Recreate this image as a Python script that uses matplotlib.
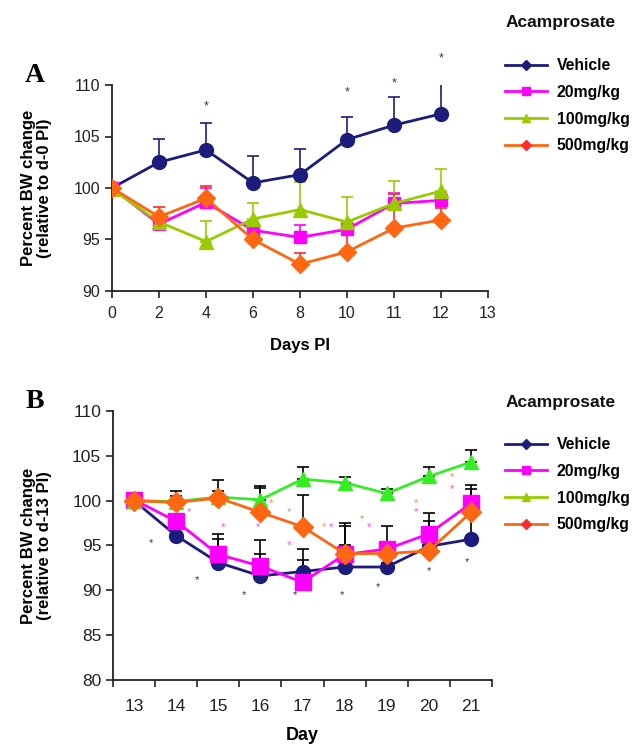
import matplotlib
matplotlib.use("Agg")
import matplotlib.pyplot as plt
from matplotlib.lines import Line2D

plt.rcParams['font.family'] = ['Liberation Sans', 'DejaVu Sans']

# ---- panel A data (days post infection) ----
days_a = ['0', '2', '4', '6', '8', '10', '11', '12', '13']
veh_a = [100, 102.5, 103.7, 100.5, 101.3, 104.7, 106.1, 107.2]
veh_a_err = [0, 2.3, 2.6, 2.6, 2.5, 2.2, 2.7, 2.9]
mg20_a = [100, 96.5, 98.6, 95.9, 95.2, 96.0, 98.5, 98.8]
mg20_a_err = [0, 0.4, 1.4, 0.6, 1.2, 0.8, 1.0, 0.8]
mg100_a = [99.9, 96.7, 94.8, 97.0, 97.9, 96.7, 98.5, 99.7]
mg100_a_err = [0, 0.4, 2.0, 1.5, 2.7, 2.4, 2.2, 2.1]
mg500_a = [100, 97.2, 99.0, 95.0, 92.6, 93.8, 96.1, 96.9]
mg500_a_err = [0, 1.0, 1.2, 0.8, 1.1, 2.2, 3.3, 1.2]
star_a_x = [2, 5, 6, 7]
star_a_y = [107.9, 109.3, 110.2, 112.6]

# ---- panel B data ----
days_b = ['13', '14', '15', '16', '17', '18', '19', '20', '21']
veh_b = [100, 96.1, 93.1, 91.6, 92.1, 92.6, 92.6, 94.9, 95.7]
veh_b_err = [0, 0.8, 2.6, 2.5, 2.5, 2.4, 0.5, 2.8, 2.6]
mg20_b = [100.1, 97.7, 94.0, 92.7, 90.9, 94.0, 94.6, 96.3, 99.7]
mg20_b_err = [0, 0.6, 2.3, 2.9, 2.5, 3.2, 2.6, 2.3, 2.1]
mg100_b = [100, 99.9, 100.4, 100.1, 102.4, 102.0, 100.8, 102.7, 104.3]
mg100_b_err = [0, 0.6, 0.7, 1.5, 1.3, 0.6, 0.5, 1.0, 1.3]
mg500_b = [100, 99.8, 100.3, 98.7, 97.1, 94.1, 94.1, 94.4, 98.7]
mg500_b_err = [0, 1.3, 2.0, 2.7, 3.5, 3.4, 1.2, 0.6, 2.6]
star_veh_b_x = [0.40, 1.49, 2.61, 3.82, 4.94, 5.79, 7.00, 7.90]
star_veh_b_y = [95.3, 91.1, 89.5, 89.5, 89.5, 90.4, 92.1, 93.1]
star_20_b_x = [1.30, 2.11, 2.95, 3.69, 4.67, 5.59, 6.70, 7.56]
star_20_b_y = [98.7, 97.0, 97.0, 95.1, 97.0, 97.0, 98.7, 101.3]
star_500_b_x = [3.25, 3.68, 4.52, 5.41, 6.70, 7.56]
star_500_b_y = [99.7, 98.7, 97.0, 97.9, 99.7, 102.6]

labels = ['Vehicle', '20mg/kg', '100mg/kg', '500mg/kg']
NAVY = '#1c1c7c'
MAGENTA = '#ff00ff'
GREEN_A = '#99cc00'
GREEN_B = '#33ee22'
ORANGE = '#ff6611'
RED = '#ff2a2a'

W, H = 633, 744
fig = plt.figure(figsize=(W / 100, H / 100), dpi=100)


def px_axes(left, top, right, bottom):
    return fig.add_axes([left / W, 1 - bottom / H, (right - left) / W, (bottom - top) / H])


def style_axes(ax, fs):
    for s in ['top', 'right']:
        ax.spines[s].set_visible(False)
    for s in ['left', 'bottom']:
        ax.spines[s].set_linewidth(1.3)
        ax.spines[s].set_color('#222222')
    ax.tick_params(axis='both', which='both', direction='out', length=5, width=1.2,
                   colors='#222222', labelsize=fs)


def series(ax, x, y, err, color, ecolor, marker, ms):
    ax.errorbar(x, y, yerr=[[0] * len(err), err], fmt='none', ecolor=ecolor,
                elinewidth=1.2, capsize=4, capthick=1.2, zorder=2)
    ax.plot(x, y, color=color, lw=2, marker=marker, ms=ms, mfc=color, mec=color, zorder=3)


def legend(colors, title_y, top):
    markers = ['D', 's', '^', 'D']
    mcols = [NAVY, MAGENTA, colors[2], RED]
    handles = [Line2D([], [], color=c, lw=2, marker=m, ms=6 if m != 'D' else 5, mfc=mc, mec=mc)
               for c, m, mc in zip(colors, markers, mcols)]
    fig.text(506 / W, 1 - title_y / H, 'Acamprosate', fontsize=12.5, fontweight='bold',
             va='center', ha='left', color='#111111')
    fig.legend(handles, labels, loc='upper left', bbox_to_anchor=(505 / W, 1 - top / H),
               frameon=False, prop={'weight': 'bold', 'size': 11.3}, handlelength=2.7,
               handletextpad=0.6, labelspacing=0.75, borderpad=0, borderaxespad=0)


# ---------------- panel A ----------------
axA = px_axes(112, 85, 488, 291)
xa = list(range(len(veh_a)))
series(axA, xa, veh_a, veh_a_err, NAVY, NAVY, 'o', 10)
series(axA, xa, mg20_a, mg20_a_err, MAGENTA, MAGENTA, 's', 8)
series(axA, xa, mg100_a, mg100_a_err, GREEN_A, GREEN_A, '^', 10)
series(axA, xa, mg500_a, mg500_a_err, ORANGE, RED, 'D', 9)
for x, y in zip(star_a_x, star_a_y):
    axA.text(x, y, '*', color='#333355', fontsize=9, ha='center', va='center', clip_on=False)
axA.set_xlim(0, len(days_a) - 1)
axA.set_ylim(90, 110)
axA.set_xticks(range(len(days_a)))
axA.set_xticklabels(days_a)
axA.set_yticks([90, 95, 100, 105, 110])
style_axes(axA, 11.5)
axA.tick_params(axis='x', pad=6)
axA.set_xlabel('Days PI', fontsize=12, fontweight='bold', labelpad=12)
axA.set_ylabel('Percent BW change\n(relative to d-0 PI)', fontsize=12, fontweight='bold',
               linespacing=1.05)
axA.yaxis.set_label_coords(-0.16, 0.5)
fig.text(35 / W, 1 - 75 / H, 'A', family='Liberation Serif', fontweight='bold', fontsize=20,
         ha='center', va='center')
legend([NAVY, MAGENTA, GREEN_A, ORANGE], 22, 58)

# ---------------- panel B ----------------
axB = px_axes(113, 411, 492, 680)
xb = list(range(len(veh_b)))
series(axB, xb, veh_b, veh_b_err, NAVY, 'black', 'o', 10)
series(axB, xb, mg20_b, mg20_b_err, MAGENTA, 'black', 's', 11)
series(axB, xb, mg100_b, mg100_b_err, GREEN_B, 'black', '^', 10)
series(axB, xb, mg500_b, mg500_b_err, ORANGE, 'black', 'D', 10)
for xs, ys, c in [(star_veh_b_x, star_veh_b_y, '#333355'),
                  (star_20_b_x, star_20_b_y, '#ff44ff'),
                  (star_500_b_x, star_500_b_y, '#ff8833')]:
    for x, y in zip(xs, ys):
        axB.text(x, y, '*', color=c, fontsize=8, ha='center', va='center')
axB.set_xlim(-0.5, len(days_b) - 0.5)
axB.set_ylim(80, 110)
axB.set_xticks([i - 0.5 for i in range(len(days_b) + 1)])
axB.set_xticklabels([])
axB.set_xticks(range(len(days_b)), minor=True)
axB.set_xticklabels(days_b, minor=True)
axB.set_yticks([80, 85, 90, 95, 100, 105, 110])
style_axes(axB, 12.5)
axB.tick_params(axis='x', which='minor', length=0, pad=14)
axB.set_xlabel('Day', fontsize=13, fontweight='bold', labelpad=9)
axB.set_ylabel('Percent BW change\n(relative to d-13 PI)', fontsize=12, fontweight='bold',
               linespacing=1.05)
axB.yaxis.set_label_coords(-0.162, 0.5)
fig.text(35 / W, 1 - 402 / H, 'B', family='Liberation Serif', fontweight='bold', fontsize=20,
         ha='center', va='center')
legend([NAVY, MAGENTA, GREEN_A, ORANGE], 402, 437)

fig.savefig('out.png', dpi=100)
